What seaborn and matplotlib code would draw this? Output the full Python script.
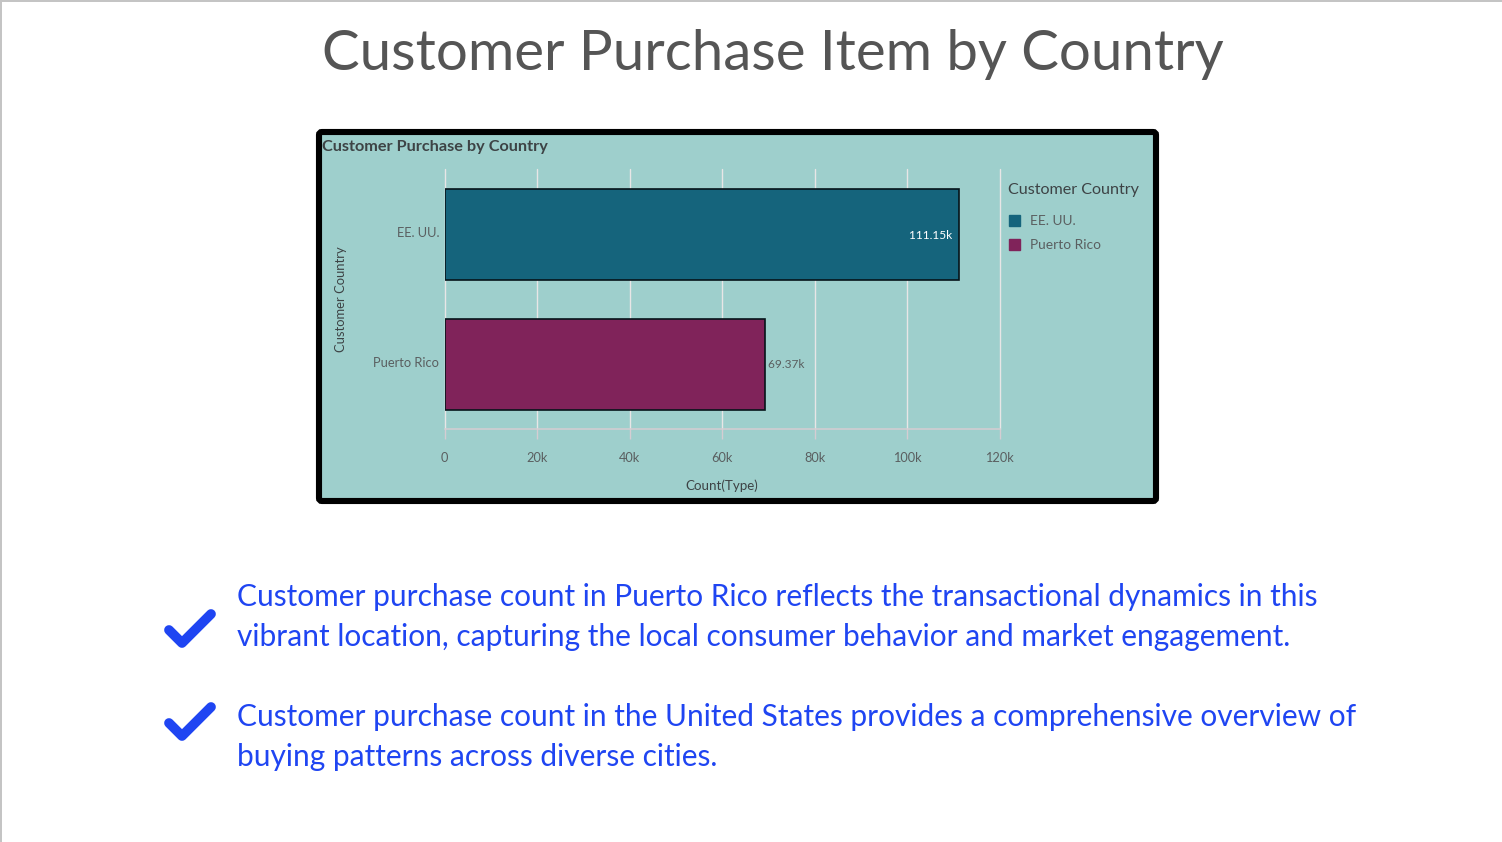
"""Customer purchase count by country, slide layout with two takeaways."""

import matplotlib.pyplot as plt
import pandas as pd
import seaborn as sns
from matplotlib.lines import Line2D
from matplotlib.patches import FancyBboxPatch, Rectangle
from matplotlib.ticker import FuncFormatter
from matplotlib.transforms import ScaledTranslation

W, H = 1502, 842
FONT = "Lato"

countries = ["EE. UU.", "Puerto Rico"]
counts = [111150, 69370]
count_labels = ["111.15k", "69.37k"]
x_ticks = [0, 20000, 40000, 60000, 80000, 100000, 120000]
bar_colors = ["#15647c", "#80235a"]

title = "Customer Purchase Item by Country"
chart_title = "Customer Purchase by Country"
takeaways = [
    "Customer purchase count in Puerto Rico reflects the transactional dynamics in this\n"
    "vibrant location, capturing the local consumer behavior and market engagement.",
    "Customer purchase count in the United States provides a comprehensive overview of\n"
    "buying patterns across diverse cities.",
]

TEAL = "#9ecfcc"
BLUE = "#1f45f2"
GRID = "#e8e6e6"


def fx(px):
    return px / W


def fy(px):
    return 1 - px / H


def add_frame(fig):
    # grey slide edge and the black rounded panel behind the chart
    fig.add_artist(Rectangle((0, fy(2)), 1, 2 / H, transform=fig.transFigure, color="#c4c4c4", lw=0))
    fig.add_artist(Rectangle((0, 0), 2 / W, 1, transform=fig.transFigure, color="#c4c4c4", lw=0))
    overlay = fig.add_axes([0, 0, 1, 1], zorder=0)
    overlay.set_xlim(0, W)
    overlay.set_ylim(H, 0)
    overlay.axis("off")
    overlay.add_patch(FancyBboxPatch((319, 132), 837, 369, boxstyle="round,pad=0,rounding_size=3",
                                     fc=TEAL, ec="black", lw=4.4))
    return overlay


def add_check(overlay, y_off):
    overlay.add_line(Line2D([169, 182, 211], [630 + y_off, 643 + y_off, 614 + y_off], color=BLUE, lw=7,
                            solid_capstyle="round", solid_joinstyle="round"))


def plot_chart(fig):
    ax = fig.add_axes([fx(444.6), fy(429), 555 / W, 260 / H], zorder=2)
    ax.patch.set_alpha(0)
    df = pd.DataFrame({"country": countries, "count": counts})
    sns.barplot(data=df, x="count", y="country", hue="country", palette=bar_colors, dodge=False, width=0.7,
                edgecolor="#06141a", linewidth=1.2, saturation=1, ax=ax, zorder=3)
    ax.set_xlim(0, 120000)
    ax.set_ylim(1.5, -0.5)
    ax.set_xticks(x_ticks)
    ax.xaxis.set_major_formatter(FuncFormatter(lambda v, _: "0" if v == 0 else f"{v / 1000:.0f}k"))
    ax.grid(axis="x", color=GRID, lw=1.0, zorder=1)
    ax.grid(axis="y", visible=False)
    ax.set_axisbelow(True)
    # the 0 and 120k lines sit on the axes edge, so they must not be clipped
    for line in ax.get_xgridlines():
        line.set_clip_on(False)
    for side in ["top", "right", "left"]:
        ax.spines[side].set_visible(False)
    ax.spines["bottom"].set_color("#d5cdd2")
    ax.spines["bottom"].set_linewidth(1.1)
    ax.tick_params(axis="x", bottom=True, length=7.2, width=1.0, color="#d5cdd2", labelsize=9.2,
                   labelcolor="#5a5f60", pad=9.5)
    ax.tick_params(axis="y", length=0, labelsize=9.3, labelcolor="#5a5f60", pad=4)
    for label in ax.get_xticklabels():
        label.set_family(FONT)
    lift = ScaledTranslation(0, 2 / 100, fig.dpi_scale_trans)
    for label in ax.get_yticklabels():
        label.set_family(FONT)
        label.set_transform(label.get_transform() + lift)
    ax.set_xlabel("")
    ax.set_ylabel("")

    ax.text(counts[0], 0.01, count_labels[0] + "  ", color="white", fontsize=8.6, family=FONT,
            ha="right", va="center", zorder=5)
    ax.text(counts[1], 1, " " + count_labels[1], color="#5a5f60", fontsize=8.6, family=FONT,
            ha="left", va="center", zorder=5)

    handles = [Rectangle((0, 0), 1, 1, color=c) for c in bar_colors]
    leg = fig.legend(handles, countries, title="Customer Country", loc="upper left",
                     bbox_to_anchor=(fx(1003), fy(177.5)), frameon=False, handlelength=0.85, handleheight=0.85,
                     labelspacing=0.85, handletextpad=0.75, borderaxespad=0,
                     prop={"family": FONT, "size": 9.9}, labelcolor="#5a5f60")
    leg.set_title("Customer Country", prop={"family": FONT, "size": 11.6})
    leg.get_title().set_color("#3d4345")
    leg._legend_box.align = "left"
    leg._legend_box.sep = 13
    leg.set_zorder(5)


def main():
    sns.set_theme(style="white")
    plt.rcParams["font.family"] = [FONT, "DejaVu Sans"]
    fig = plt.figure(figsize=(W / 100, H / 100), dpi=100, facecolor="white")
    overlay = add_frame(fig)
    plot_chart(fig)

    fig.text(fx(773), fy(55), title, fontsize=40.6, color="#555555", ha="center", va="center")
    fig.text(fx(322), fy(147), chart_title, fontsize=11.7, color="#3d4345", fontweight="bold", va="center")
    fig.text(fx(722), fy(486), "Count(Type)", fontsize=9.6, color="#3d4345", ha="center", va="center")
    fig.text(fx(341), fy(299), "Customer Country", fontsize=9.4, color="#3d4345", rotation=90,
             ha="center", va="center")

    fig.text(fx(237), fy(617), takeaways[0], fontsize=21.5, color=BLUE, va="center", linespacing=1.54)
    fig.text(fx(237), fy(737), takeaways[1], fontsize=21.5, color=BLUE, va="center", linespacing=1.54)
    add_check(overlay, 0)
    add_check(overlay, 93)

    fig.savefig("out.png", dpi=100)
    plt.close(fig)


if __name__ == "__main__":
    main()
